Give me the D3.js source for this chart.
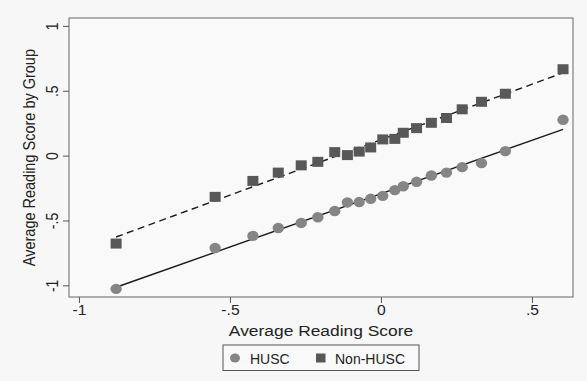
<!DOCTYPE html>
<html>
<head>
<meta charset="utf-8">
<script src="https://cdn.jsdelivr.net/npm/d3@7"></script>
<style>
  html, body { margin: 0; padding: 0; background: #f7f7f7; }
  svg { display: block; font-family: "Liberation Sans", Arial, sans-serif; }
</style>
</head>
<body>
<svg id="chart" width="587" height="381"></svg>
<script>
// average reading score (x) shared by both groups
const xVals = [-0.877, -0.549, -0.424, -0.340, -0.264, -0.209, -0.153, -0.111, -0.072, -0.034,
               0.006, 0.046, 0.074, 0.118, 0.167, 0.217, 0.269, 0.333, 0.412, 0.603];
const huscVals = [-1.027, -0.712, -0.619, -0.558, -0.519, -0.475, -0.427, -0.361, -0.358, -0.333,
                  -0.310, -0.266, -0.236, -0.202, -0.153, -0.131, -0.089, -0.058, 0.035, 0.276];
const nonHuscVals = [-0.678, -0.318, -0.195, -0.131, -0.075, -0.048, 0.027, 0.004, 0.031, 0.063,
                     0.125, 0.129, 0.176, 0.212, 0.253, 0.290, 0.357, 0.415, 0.477, 0.666];

const xTicks = [-1, -0.5, 0, 0.5];
const xTickLabels = ["-1", "-.5", "0", ".5"];
const yTicks = [-1, -0.5, 0, 0.5, 1];
const yTickLabels = ["-1", "-.5", "0", ".5", "1"];
const seriesNames = ["HUSC", "Non-HUSC"];

const margin = {top: 18, right: 14, bottom: 84, left: 69};
const width = 587 - margin.left - margin.right;
const height = 381 - margin.top - margin.bottom;

const svg = d3.select("#chart");
const g = svg.append("g").attr("transform", "translate(" + margin.left + "," + margin.top + ")");

const x = d3.scaleLinear().domain([-1.033, 0.636]).range([0, width]);
const y = d3.scaleLinear().domain([-1.09, 1.061]).range([height, 0]);

// plot region
g.append("rect")
  .attr("width", width).attr("height", height)
  .attr("fill", "#f9f9f9").attr("stroke", "#666").attr("stroke-width", 1);

// axes
const xAxis = g.append("g")
  .attr("transform", "translate(0," + height + ")")
  .call(d3.axisBottom(x).tickValues(xTicks).tickSize(6).tickPadding(2)
        .tickFormat((d, i) => xTickLabels[i]));
xAxis.select(".domain").remove();
xAxis.selectAll("line").attr("stroke", "#555");
xAxis.selectAll("text").attr("font-size", 14).attr("fill", "#222")
  .attr("font-family", "Liberation Sans, Arial, sans-serif")
  .attr("transform", "scale(1.12,1)");

const yAxis = g.append("g")
  .call(d3.axisLeft(y).tickValues(yTicks).tickSize(6).tickPadding(0)
        .tickFormat((d, i) => yTickLabels[i]));
yAxis.select(".domain").remove();
yAxis.selectAll("line").attr("stroke", "#555");
yAxis.selectAll("text")
  .attr("font-size", 14).attr("fill", "#222")
  .attr("font-family", "Liberation Sans, Arial, sans-serif")
  .attr("x", null).attr("dy", null)
  .attr("text-anchor", "middle")
  .attr("transform", "translate(-11.5,0) scale(1.12,1) rotate(-90)");

// axis titles
svg.append("text")
  .attr("transform", "translate(321,336) scale(1.2,1)")
  .attr("text-anchor", "middle").attr("font-size", 14.5).attr("fill", "#222")
  .text("Average Reading Score");

svg.append("text")
  .attr("transform", "translate(34.5," + (margin.top + y(0) + 2) + ") scale(1.2,1) rotate(-90)")
  .attr("text-anchor", "middle").attr("font-size", 14.5).attr("fill", "#222")
  .text("Average Reading Score by Group");

// linear fit
function fit(xs, ys) {
  const mx = d3.mean(xs), my = d3.mean(ys);
  let sxy = 0, sxx = 0;
  xs.forEach((v, i) => { sxy += (v - mx) * (ys[i] - my); sxx += (v - mx) * (v - mx); });
  const b = sxy / sxx, a = my - b * mx;
  const ext = d3.extent(xs);
  return ext.map(v => [v, a + b * v]);
}

const line = d3.line().x(d => x(d[0])).y(d => y(d[1]));

g.append("path")
  .datum(fit(xVals, nonHuscVals))
  .attr("d", line)
  .attr("fill", "none").attr("stroke", "#1a1a1a").attr("stroke-width", 1.4)
  .attr("stroke-dasharray", "7,4.5");

g.append("path")
  .datum(fit(xVals, huscVals))
  .attr("d", line)
  .attr("fill", "none").attr("stroke", "#1a1a1a").attr("stroke-width", 1.4);

// markers
const husc = xVals.map((v, i) => [v, huscVals[i]]);
const nonHusc = xVals.map((v, i) => [v, nonHuscVals[i]]);

g.selectAll(".sq")
  .data(nonHusc)
  .enter().append("rect")
  .attr("class", "sq")
  .attr("x", d => x(d[0]) - 5.5).attr("y", d => y(d[1]) - 5)
  .attr("width", 11).attr("height", 10)
  .attr("fill", "#585858");

g.selectAll(".dot")
  .data(husc)
  .enter().append("ellipse")
  .attr("class", "dot")
  .attr("cx", d => x(d[0])).attr("cy", d => y(d[1]))
  .attr("rx", 5.7).attr("ry", 5.2)
  .attr("fill", "#858585");

// legend
const lg = svg.append("g").attr("transform", "translate(223,345)");
lg.append("rect").attr("width", 196).attr("height", 25.5)
  .attr("fill", "#f9f9f9").attr("stroke", "#555").attr("stroke-width", 1);
lg.append("ellipse").attr("cx", 12).attr("cy", 13).attr("rx", 5).attr("ry", 4.6).attr("fill", "#858585");
lg.append("text").attr("x", 27).attr("y", 18.5).attr("font-size", 14).attr("fill", "#222").text(seriesNames[0]);
lg.append("rect").attr("x", 93).attr("y", 8.5).attr("width", 9.5).attr("height", 9).attr("fill", "#585858");
lg.append("text").attr("x", 112).attr("y", 18.5).attr("font-size", 14).attr("fill", "#222").text(seriesNames[1]);
</script>
</body>
</html>
